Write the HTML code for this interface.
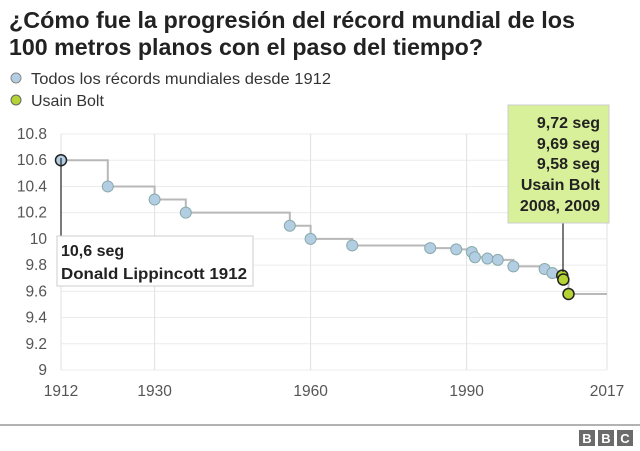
<!DOCTYPE html>
<html><head><meta charset="utf-8">
<style>
body{margin:0;background:#fff;font-family:"Liberation Sans",Arial,sans-serif;}
#wrap{position:relative;width:640px;height:451px;overflow:hidden;}
</style></head>
<body>
<div id="wrap">
<svg id="svg" width="640" height="451" xmlns="http://www.w3.org/2000/svg">
<text x="9" y="28" font-size="23" font-weight="bold" fill="#222" textLength="566" lengthAdjust="spacingAndGlyphs">¿Cómo fue la progresión del récord mundial de los</text>
<text x="9" y="55" font-size="23" font-weight="bold" fill="#222" textLength="474" lengthAdjust="spacingAndGlyphs">100 metros planos con el paso del tiempo?</text>
<g>
<circle cx="16" cy="78" r="5" fill="#b3cde3" stroke="#888" stroke-width="1"/>
<text x="31" y="84" font-size="16" fill="#333" textLength="300" lengthAdjust="spacingAndGlyphs">Todos los récords mundiales desde 1912</text>
<circle cx="16" cy="100" r="5" fill="#b5d334" stroke="#666" stroke-width="1"/>
<text x="31" y="106" font-size="16" fill="#333">Usain Bolt</text>
</g>
<g id="grid"></g>
<g id="axes"></g>
<g id="series"></g>
<line x1="61" y1="158" x2="61" y2="237" stroke="#222" stroke-width="1.2"/>
<g>
<rect x="57" y="236" width="196" height="50" fill="#fff" stroke="#ccc"/>
<text x="61" y="256" font-size="16" font-weight="bold" fill="#222">10,6 seg</text>
<text x="61" y="279" font-size="16" font-weight="bold" fill="#222" textLength="186" lengthAdjust="spacingAndGlyphs">Donald Lippincott 1912</text>
</g>
<line x1="563" y1="223" x2="563" y2="272" stroke="#222" stroke-width="1.2"/>
<g>
<rect x="508" y="105" width="101" height="118" fill="#d9f09a" stroke="#ccc"/>
<g font-size="16" font-weight="bold" fill="#222" text-anchor="end">
<text x="600" y="128">9,72 seg</text>
<text x="600" y="149">9,69 seg</text>
<text x="600" y="169">9,58 seg</text>
<text x="600" y="190">Usain Bolt</text>
<text x="600" y="211">2008, 2009</text>
</g>
</g>
<line x1="0" y1="425" x2="640" y2="425" stroke="#666" stroke-width="1"/>
<g>
<rect x="579" y="430" width="16" height="16" fill="#6b6b6b"/><text x="587" y="443" font-size="13" font-weight="bold" fill="#fff" text-anchor="middle">B</text>
<rect x="598" y="430" width="16" height="16" fill="#6b6b6b"/><text x="606" y="443" font-size="13" font-weight="bold" fill="#fff" text-anchor="middle">B</text>
<rect x="617" y="430" width="16" height="16" fill="#6b6b6b"/><text x="625" y="443" font-size="13" font-weight="bold" fill="#fff" text-anchor="middle">C</text>
</g>
</svg>
</div>
<script>
const years = [1912,1921,1930,1936,1956,1960,1968,1983,1988,1991,1991.6,1994,1996,1999,2005,2006.5,2008.4,2008.6,2009.6];
const times = [10.6,10.4,10.3,10.2,10.1,10.0,9.95,9.93,9.92,9.90,9.86,9.85,9.84,9.79,9.77,9.74,9.72,9.69,9.58];
const isBolt = [0,0,0,0,0,0,0,0,0,0,0,0,0,0,0,0,1,1,1];
const xTicks = [1912,1930,1960,1990,2017];
const yTicks = [9,9.2,9.4,9.6,9.8,10,10.2,10.4,10.6,10.8];
const yTickLabels = ["9","9.2","9.4","9.6","9.8","10","10.2","10.4","10.6","10.8"];
const X0=61,X1=607,Y0=370,Y1=134;
function xs(v){return X0+(v-1912)/(2017-1912)*(X1-X0);}
function ys(v){return Y0-(v-9)/(10.8-9)*(Y0-Y1);}
const NS="http://www.w3.org/2000/svg";
function mk(tag,attrs,parent){const e=document.createElementNS(NS,tag);for(const k in attrs)e.setAttribute(k,attrs[k]);document.getElementById(parent).appendChild(e);return e;}
yTicks.forEach((t,i)=>{
  const l=mk('line',{x1:X0,x2:X1,y1:ys(t),y2:ys(t),stroke:'#ececec','stroke-width':1},'grid');
  
  
  const tx=mk('text',{x:47,y:ys(t)+5,'font-size':15.5,fill:'#555','text-anchor':'end'},'axes');
  tx.textContent=yTickLabels[i];
  
  
});
xTicks.forEach(t=>{
  const l=mk('line',{x1:xs(t),x2:xs(t),y1:Y1,y2:Y0,stroke:'#e2e2e2','stroke-width':1},'grid');
  
  
  const tx=mk('text',{x:xs(t),y:396,'font-size':15.5,fill:'#555','text-anchor':'middle'},'axes');
  tx.textContent=String(t);
  
  
});
let d='M'+xs(years[0])+','+ys(times[0]);
for(let i=1;i<years.length;i++){d+=' H'+xs(years[i])+' V'+ys(times[i]);}
d+=' H'+xs(2017);
const p=mk('path',{d:d,fill:'none',stroke:'#b8b8b8','stroke-width':2},'series');


years.forEach((y,i)=>{
  const b=isBolt[i];
  const first=i===0;
  const c=mk('circle',{cx:xs(y),cy:ys(times[i]),r:5.5,fill:b?'#b5d334':'#b3cde3',stroke:(b||first)?'#222':'#8aa',
    'stroke-width':(b||first)?1.5:1},'series');
  
  
});
</script>
</body></html>
